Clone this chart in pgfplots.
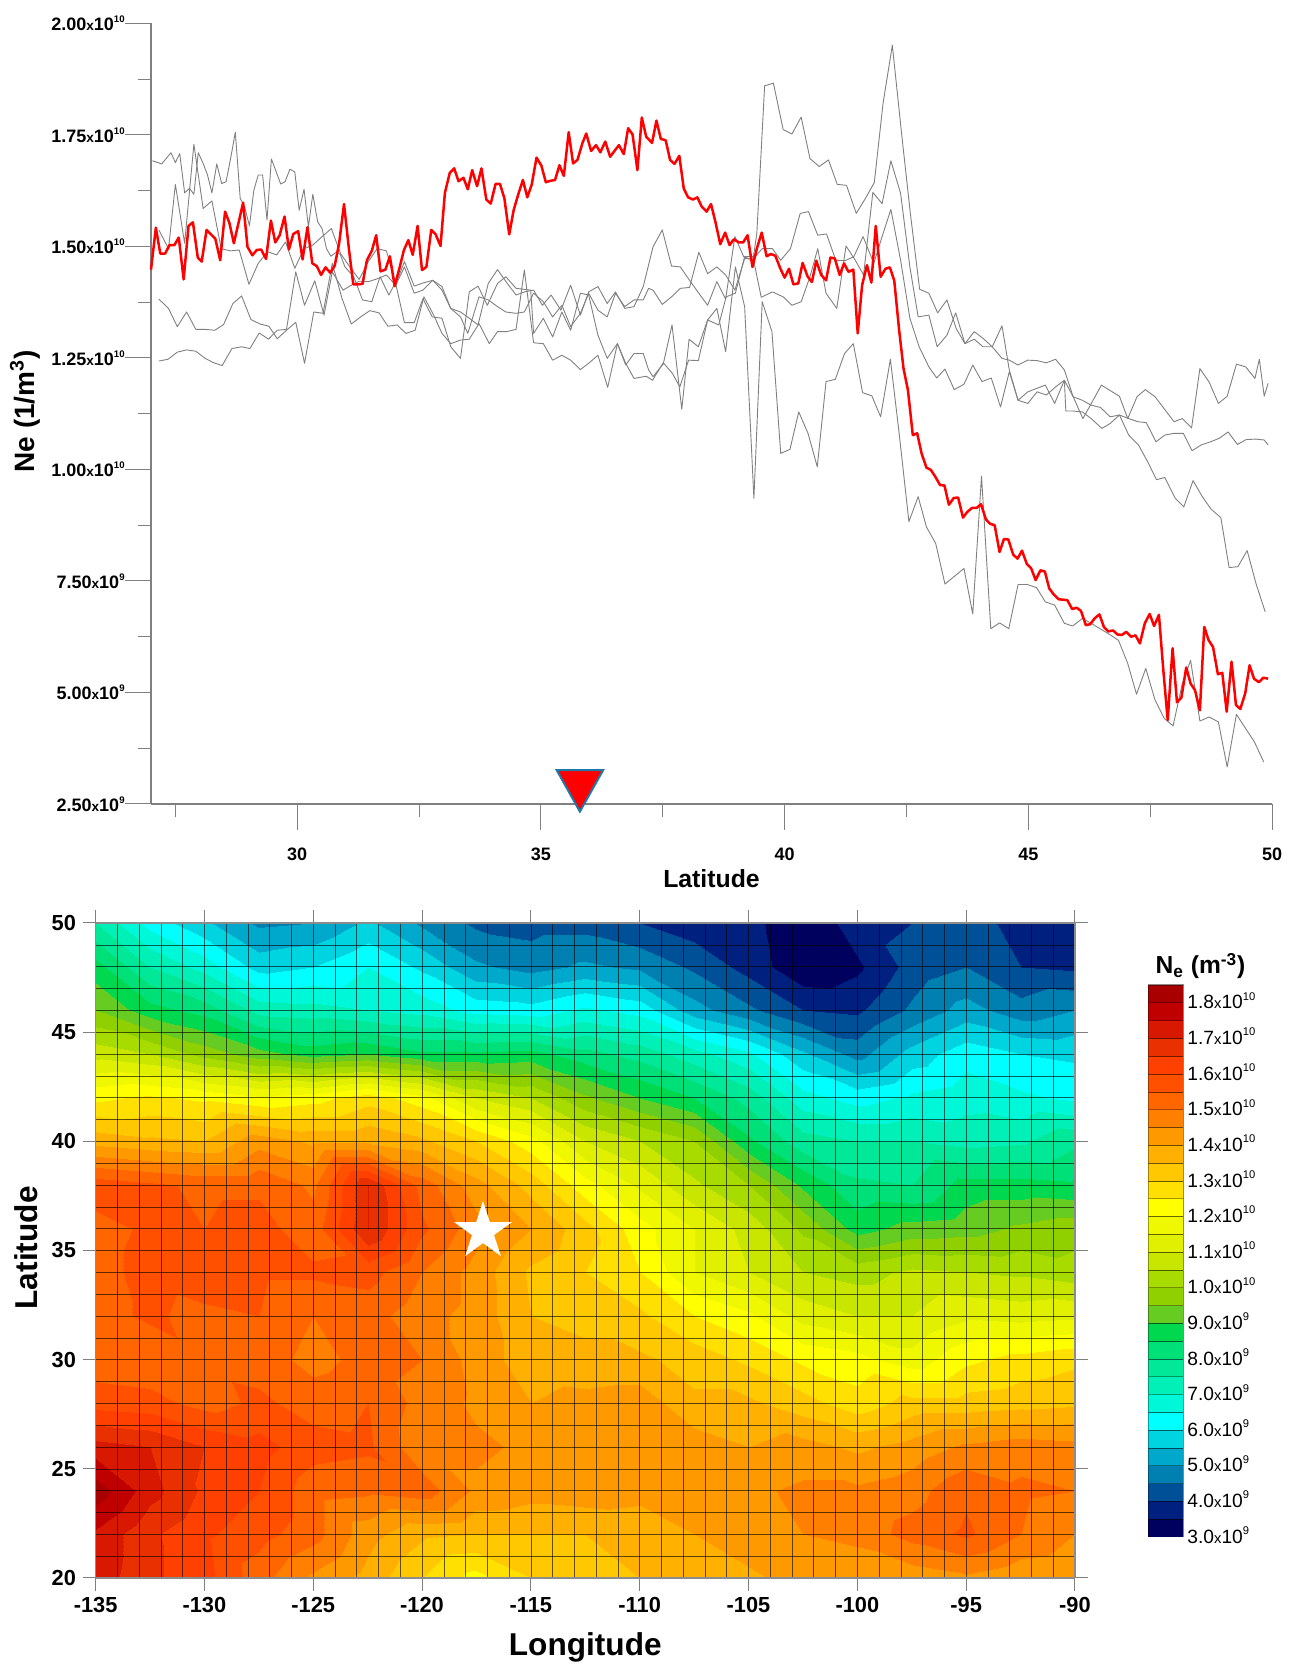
\documentclass[border=0pt]{standalone}
\usepackage{fontspec}
\setmainfont{Liberation Sans}
\usepackage{pgfplots}
\pgfplotsset{compat=1.18}
\usepgfplotslibrary{patchplots}
\newcommand\sci[2]{#1{\fontsize{6.8}{6.8}\selectfont x}10\raisebox{0.45em}{\fontsize{4.8}{4.8}\selectfont #2}}
\newcommand\scb[2]{#1{\fontsize{7.4}{7.4}\selectfont x}10\raisebox{0.45em}{\fontsize{5.6}{5.6}\selectfont #2}}
\pgfdeclareplotmark{nstar}{%
 \pgfpathmoveto{\pgfqpoint{0pt}{15.2pt}}
 \pgfpathlineto{\pgfqpoint{3.41pt}{4.7pt}}
 \pgfpathlineto{\pgfqpoint{14.46pt}{4.7pt}}
 \pgfpathlineto{\pgfqpoint{5.52pt}{-1.79pt}}
 \pgfpathlineto{\pgfqpoint{8.93pt}{-12.3pt}}
 \pgfpathlineto{\pgfqpoint{0pt}{-5.81pt}}
 \pgfpathlineto{\pgfqpoint{-8.93pt}{-12.3pt}}
 \pgfpathlineto{\pgfqpoint{-5.52pt}{-1.79pt}}
 \pgfpathlineto{\pgfqpoint{-14.46pt}{4.7pt}}
 \pgfpathlineto{\pgfqpoint{-3.41pt}{4.7pt}}
 \pgfpathclose\pgfusepathqfill}
\pgfdeclareplotmark{downtri}{%
 \pgfpathmoveto{\pgfqpoint{0pt}{0pt}}
 \pgfpathlineto{\pgfqpoint{11.6pt}{20.7pt}}
 \pgfpathlineto{\pgfqpoint{-11.6pt}{20.7pt}}
 \pgfpathclose\pgfusepathqfillstroke}
\begin{document}
\begin{tikzpicture}
\useasboundingbox (0,0) rectangle (649pt,832.5pt);
%%%% TOP PANEL
\begin{axis}[name=top, at={(75.5pt,430.5pt)}, anchor=south west, scale only axis, width=560.5pt, height=390.3pt,
 xmin=27, xmax=50, ymin=2.5, ymax=20, clip=false,
 axis lines=left, axis line style={-, black!50, line width=.6pt},
 tick align=outside, major tick length=13pt, minor tick length=6.5pt,
 tick style={black!50, line width=.5pt},
 xtick={30,35,40,45,50}, xticklabels={30,35,40,45,50},
 minor xtick={27.5,32.5,37.5,42.5,47.5},
 ytick={2.5,5,7.5,10,12.5,15,17.5,20},
 yticklabels={\sci{2.50}{9},\sci{5.00}{9},\sci{7.50}{9},\sci{1.00}{10},\sci{1.25}{10},\sci{1.50}{10},\sci{1.75}{10},\sci{2.00}{10}},
 minor ytick={3.75,6.25,8.75,11.25,13.75,16.25,18.75},
 tick label style={font=\bfseries\fontsize{9}{9}\selectfont},
 xticklabel style={yshift=-5.6pt},
 yticklabel style={inner sep=0pt},
 xlabel={Latitude}, ylabel={Ne (1/m\textsuperscript{3})},
 xlabel style={at={(axis description cs:0.5,0)}, anchor=center, yshift=-37.5pt, font=\bfseries\fontsize{12.4}{13}\selectfont},
 ylabel style={at={(axis description cs:0,0.503)}, anchor=center, yshift=63pt, font=\bfseries\fontsize{14}{15}\selectfont},
]
\addplot[black!50, line width=.45pt, line join=round] coordinates {
(27.03,16.92)(27.22,16.85)(27.41,17.10)(27.50,16.88)(27.59,17.08)(27.69,16.20)(27.79,16.30)(27.88,16.17)(27.97,17.10)(28.07,16.86)(28.16,16.60)(28.25,16.20)(28.35,16.85)(28.45,16.41)(28.54,16.45)(28.64,17.01)(28.73,17.56)(28.83,16.08)(28.92,15.89)(29.02,15.46)(29.11,16.26)(29.20,16.60)(29.29,16.60)(29.38,15.59)(29.47,16.96)(29.57,16.67)(29.66,16.40)(29.75,16.45)(29.85,16.73)(29.95,16.67)(30.04,15.81)(30.14,16.28)(30.23,15.44)(30.32,16.17)(30.42,15.55)(30.51,15.40)(30.60,14.95)(30.69,14.78)(30.79,14.86)(30.88,14.83)(30.98,14.54)(31.16,14.32)(31.34,13.80)(31.53,13.76)(31.70,14.32)(31.88,13.91)(32.08,14.32)(32.20,14.66)(32.40,14.11)(32.58,14.18)(32.78,14.24)(32.97,14.02)(33.15,13.61)(33.35,13.53)(33.53,13.39)(33.71,13.24)(33.92,14.17)(34.11,14.48)(34.31,14.17)(34.49,13.91)(34.66,13.98)(34.85,14.02)(35.03,13.68)(35.21,13.91)(35.41,13.57)(35.61,14.13)(35.81,13.46)(35.98,13.98)(36.17,14.10)(36.36,13.72)(36.53,13.98)(36.72,13.61)(36.91,13.65)(37.10,14.10)(37.30,14.99)(37.49,15.37)(37.68,14.56)(37.86,14.54)(38.05,14.24)(38.24,13.95)(38.42,13.68)(38.61,14.21)(38.79,13.82)(38.98,15.22)(39.16,14.77)(39.35,14.69)(39.43,15.29)(39.59,18.60)(39.77,18.66)(39.97,17.62)(40.15,17.52)(40.34,17.90)(40.52,16.97)(40.71,16.79)(40.90,16.94)(41.08,16.39)(41.27,16.37)(41.47,15.74)(41.66,16.08)(41.84,16.43)(42.02,18.21)(42.21,19.51)(42.40,17.53)(42.58,15.74)(42.77,14.04)(42.96,13.95)(43.14,13.51)(43.33,13.80)(43.52,13.16)(43.70,12.82)(43.89,12.92)(44.07,12.75)(44.26,12.75)(44.46,13.22)(44.61,12.23)(44.79,11.55)(44.99,11.74)(45.18,11.82)(45.35,11.89)(45.54,11.48)(45.74,12.00)(45.92,11.63)(46.12,11.14)(46.50,11.89)(46.87,11.64)(47.04,11.14)(47.23,11.63)(47.40,11.79)(47.60,11.63)(47.99,11.07)(48.16,11.14)(48.35,10.93)(48.52,12.26)(48.71,11.96)(48.90,11.48)(49.08,11.64)(49.27,12.36)(49.46,12.30)(49.65,12.04)(49.74,12.47)(49.84,11.64)(49.92,11.93)};
\addplot[black!50, line width=.45pt, line join=round] coordinates {
(27.16,15.37)(27.36,14.95)(27.50,16.39)(27.69,15.07)(27.88,17.29)(28.07,15.85)(28.25,16.02)(28.44,14.95)(28.63,14.90)(28.81,14.92)(29.01,14.15)(29.20,14.62)(29.39,14.88)(29.58,14.81)(29.76,15.10)(29.95,14.51)(30.14,14.95)(30.32,15.03)(30.51,15.22)(30.70,15.40)(30.89,14.84)(31.08,14.54)(31.27,14.26)(31.46,14.66)(31.64,14.95)(31.83,14.90)(32.02,14.17)(32.20,13.29)(32.40,13.29)(32.58,13.83)(32.77,13.42)(32.97,13.39)(33.15,12.75)(33.35,12.49)(33.53,13.98)(33.71,14.11)(33.90,13.68)(34.11,14.17)(34.28,14.32)(34.49,14.06)(34.79,14.02)(34.85,13.05)(35.05,13.39)(35.24,12.97)(35.43,13.53)(35.61,13.12)(35.81,13.95)(35.98,13.91)(36.17,13.01)(36.36,12.49)(36.57,12.82)(36.74,12.38)(36.91,12.04)(37.16,12.09)(37.29,12.00)(37.52,12.41)(37.69,13.24)(37.89,11.35)(38.04,12.92)(38.23,12.75)(38.42,13.35)(38.61,13.61)(38.79,12.64)(38.99,14.54)(39.18,13.65)(39.37,9.35)(39.54,13.76)(39.74,13.09)(39.92,10.36)(40.11,10.45)(40.29,11.29)(40.48,10.81)(40.67,10.06)(40.85,11.97)(41.04,12.02)(41.23,12.60)(41.41,12.82)(41.60,11.72)(41.79,11.65)(41.97,11.18)(42.17,12.47)(42.35,10.81)(42.55,8.83)(42.74,9.39)(42.91,8.71)(43.10,8.34)(43.29,7.43)(43.68,7.78)(43.86,6.76)(44.04,9.85)(44.23,6.43)(44.41,6.56)(44.60,6.43)(44.79,7.42)(44.98,7.42)(45.17,7.35)(45.35,7.03)(45.54,6.96)(45.74,6.55)(45.91,6.49)(46.11,6.66)(46.29,6.55)(46.67,6.30)(46.85,6.17)(47.04,5.65)(47.22,4.96)(47.41,5.54)(47.60,4.83)(47.79,4.42)(47.97,4.25)(48.16,5.20)(48.33,5.72)(48.52,4.36)(48.71,4.45)(48.90,4.34)(49.08,3.33)(49.27,4.51)(49.46,4.19)(49.64,3.89)(49.83,3.44)};
\addplot[black!50, line width=.45pt, line join=round] coordinates {
(27.16,13.82)(27.36,13.61)(27.54,13.20)(27.73,13.53)(27.92,13.14)(28.11,13.14)(28.31,13.12)(28.49,13.25)(28.68,13.72)(28.86,13.89)(29.05,13.36)(29.24,13.26)(29.42,13.21)(29.59,12.93)(29.78,13.12)(29.97,13.30)(30.15,12.38)(30.34,13.53)(30.53,13.50)(30.72,14.62)(30.92,13.83)(31.11,13.26)(31.30,13.42)(31.49,13.56)(31.68,13.51)(31.86,13.21)(32.05,13.24)(32.23,13.05)(32.42,13.12)(32.60,13.87)(32.80,13.46)(32.97,13.05)(33.15,12.82)(33.35,12.90)(33.53,12.92)(33.73,13.27)(33.94,12.82)(34.11,13.09)(34.30,13.09)(34.49,13.14)(34.66,14.47)(34.85,12.84)(35.05,12.82)(35.24,12.45)(35.43,12.56)(35.61,12.45)(35.81,12.24)(35.98,12.38)(36.17,12.56)(36.37,11.84)(36.57,12.82)(36.74,12.34)(36.91,12.60)(37.10,12.60)(37.21,12.23)(37.30,12.08)(37.52,12.38)(37.70,12.15)(37.85,11.85)(38.03,12.45)(38.23,12.44)(38.42,13.35)(38.65,13.24)(38.80,13.87)(38.99,13.95)(39.18,14.77)(39.35,14.77)(39.52,13.86)(39.75,13.98)(39.97,13.87)(40.15,13.68)(40.34,13.76)(40.52,14.32)(40.68,14.95)(40.85,13.95)(41.07,13.61)(41.26,15.01)(41.45,14.69)(41.62,14.36)(41.81,16.21)(42.00,15.96)(42.18,16.92)(42.38,16.19)(42.57,14.54)(42.74,13.42)(42.96,13.46)(43.13,12.75)(43.33,13.01)(43.51,13.51)(43.70,12.82)(43.89,13.09)(44.07,12.94)(44.26,12.75)(44.46,12.49)(44.61,12.45)(44.79,12.34)(44.99,12.45)(45.18,12.44)(45.37,12.39)(45.56,12.47)(45.74,12.23)(45.92,11.63)(46.11,11.55)(46.29,11.44)(46.48,11.39)(46.68,11.18)(46.87,11.22)(47.06,11.14)(47.25,11.07)(47.42,11.05)(47.62,10.62)(47.80,10.77)(47.99,10.81)(48.18,10.81)(48.36,10.42)(48.55,10.55)(48.74,10.62)(48.92,10.70)(49.10,10.84)(49.29,10.56)(49.47,10.67)(49.67,10.68)(49.84,10.66)(49.92,10.55)};
\addplot[black!50, line width=.45pt, line join=round] coordinates {
(27.16,12.43)(27.35,12.47)(27.54,12.63)(27.73,12.68)(27.92,12.65)(28.11,12.49)(28.29,12.39)(28.46,12.33)(28.66,12.71)(28.86,12.75)(29.03,12.71)(29.22,13.06)(29.41,12.92)(29.59,13.12)(29.78,13.14)(29.97,14.43)(30.15,13.68)(30.36,14.23)(30.55,13.46)(30.72,14.43)(30.94,14.02)(31.11,14.13)(31.27,14.22)(31.46,14.21)(31.66,14.28)(31.83,14.36)(32.02,14.13)(32.20,14.54)(32.40,13.95)(32.58,14.02)(32.78,14.24)(32.97,14.10)(33.15,13.61)(33.35,13.42)(33.50,13.05)(33.73,13.87)(33.92,13.80)(34.11,13.65)(34.28,13.53)(34.49,13.50)(34.66,13.53)(34.85,13.95)(35.05,13.76)(35.24,13.42)(35.43,13.68)(35.61,13.20)(35.81,13.50)(35.98,13.95)(36.17,13.57)(36.36,13.42)(36.53,13.95)(36.72,13.65)(36.91,13.80)(37.10,13.80)(37.21,14.06)(37.30,14.02)(37.49,13.70)(37.68,13.87)(37.86,14.06)(38.05,14.08)(38.24,14.87)(38.42,14.39)(38.61,14.54)(38.79,14.36)(38.98,14.02)(39.18,14.73)(39.35,14.71)(39.54,14.95)(39.75,14.95)(39.92,14.69)(40.12,14.95)(40.32,15.74)(40.49,15.78)(40.68,15.25)(40.86,15.28)(41.05,14.69)(41.24,14.68)(41.42,14.77)(41.61,15.22)(41.83,14.62)(42.00,15.22)(42.18,15.83)(42.38,14.69)(42.57,13.39)(42.76,12.75)(42.96,12.30)(43.12,12.05)(43.29,12.25)(43.48,11.79)(43.68,11.91)(43.86,12.34)(44.05,11.97)(44.24,12.05)(44.43,11.40)(44.61,12.19)(44.79,11.55)(44.99,11.48)(45.18,11.74)(45.37,11.67)(45.56,11.85)(45.74,12.00)(45.77,11.31)(45.92,11.31)(46.11,11.29)(46.29,11.14)(46.51,10.92)(46.68,11.03)(46.87,11.22)(47.06,10.77)(47.26,10.55)(47.45,10.17)(47.63,9.77)(47.80,9.82)(48.01,9.36)(48.19,9.16)(48.38,9.75)(48.57,9.39)(48.75,9.11)(48.95,8.92)(49.12,7.80)(49.30,7.82)(49.49,8.18)(49.68,7.41)(49.86,6.81)};
\addplot[red, line width=1.25pt, line join=round] coordinates {
(27.00,14.48)(27.10,15.42)(27.19,14.84)(27.29,14.84)(27.38,15.03)(27.48,15.03)(27.57,15.20)(27.67,14.26)(27.77,15.46)(27.86,15.54)(27.96,14.75)(28.04,14.66)(28.14,15.37)(28.23,15.27)(28.32,15.17)(28.42,14.69)(28.52,15.78)(28.61,15.52)(28.70,15.07)(28.80,15.55)(28.89,15.98)(28.98,14.99)(29.08,14.80)(29.17,14.92)(29.26,14.93)(29.36,14.72)(29.46,15.58)(29.55,15.09)(29.64,15.25)(29.74,15.67)(29.83,14.93)(29.92,15.28)(30.02,15.34)(30.11,14.71)(30.21,15.43)(30.31,14.62)(30.40,14.56)(30.49,14.36)(30.58,14.53)(30.68,14.41)(30.77,14.57)(30.86,15.07)(30.96,15.95)(31.06,14.95)(31.15,14.15)(31.24,14.15)(31.34,14.16)(31.43,14.69)(31.53,14.90)(31.62,15.25)(31.71,14.44)(31.81,14.48)(31.90,14.78)(32.00,14.11)(32.09,14.48)(32.19,14.92)(32.28,15.14)(32.37,14.81)(32.47,15.46)(32.56,14.47)(32.65,14.54)(32.75,15.37)(32.84,15.27)(32.94,15.01)(33.03,16.20)(33.13,16.65)(33.22,16.75)(33.31,16.46)(33.41,16.54)(33.50,16.28)(33.59,16.71)(33.69,16.35)(33.78,16.75)(33.88,16.05)(33.97,15.96)(34.07,16.40)(34.16,16.40)(34.25,16.08)(34.35,15.27)(34.44,15.81)(34.53,16.15)(34.63,16.49)(34.72,16.10)(34.81,16.38)(34.91,16.99)(35.01,16.81)(35.10,16.44)(35.19,16.47)(35.29,16.49)(35.38,16.82)(35.47,16.58)(35.57,17.56)(35.66,16.86)(35.75,16.94)(35.85,17.31)(35.93,17.53)(36.03,17.14)(36.13,17.27)(36.22,17.11)(36.32,17.35)(36.42,17.01)(36.51,17.14)(36.60,17.27)(36.70,17.07)(36.79,17.65)(36.88,17.51)(36.98,16.71)(37.07,17.89)(37.16,17.46)(37.28,17.32)(37.37,17.82)(37.46,17.41)(37.56,17.38)(37.65,16.94)(37.74,16.85)(37.84,17.03)(37.93,16.30)(38.02,16.10)(38.12,16.05)(38.21,16.10)(38.30,15.89)(38.40,15.78)(38.49,15.95)(38.58,15.55)(38.68,15.05)(38.78,15.31)(38.87,15.03)(38.96,15.16)(39.06,15.09)(39.15,15.09)(39.24,15.25)(39.34,14.54)(39.43,14.95)(39.53,15.31)(39.63,14.78)(39.72,14.83)(39.81,14.79)(39.91,14.51)(40.00,14.30)(40.09,14.50)(40.18,14.15)(40.28,14.17)(40.37,14.63)(40.47,14.33)(40.56,14.20)(40.65,14.68)(40.75,14.36)(40.85,14.24)(40.94,14.75)(41.03,14.73)(41.13,14.36)(41.22,14.62)(41.31,14.43)(41.41,14.48)(41.50,13.05)(41.59,14.13)(41.69,14.58)(41.78,14.19)(41.87,15.46)(41.97,14.32)(42.07,14.50)(42.16,14.53)(42.25,14.23)(42.35,13.12)(42.44,12.26)(42.53,11.78)(42.63,10.77)(42.72,10.81)(42.81,10.36)(42.91,10.04)(43.00,9.99)(43.09,9.84)(43.19,9.65)(43.28,9.64)(43.37,9.21)(43.47,9.36)(43.56,9.37)(43.66,8.92)(43.75,9.05)(43.85,9.14)(43.94,9.14)(44.03,9.22)(44.13,8.88)(44.22,8.78)(44.31,8.75)(44.41,8.15)(44.50,8.44)(44.59,8.43)(44.69,8.09)(44.78,8.00)(44.87,8.18)(44.97,7.88)(45.06,7.78)(45.15,7.52)(45.25,7.74)(45.34,7.71)(45.43,7.33)(45.52,7.20)(45.62,7.09)(45.71,7.08)(45.80,7.07)(45.90,6.87)(45.99,6.90)(46.08,6.83)(46.18,6.51)(46.27,6.53)(46.36,6.66)(46.46,6.75)(46.55,6.47)(46.64,6.37)(46.74,6.39)(46.83,6.30)(46.92,6.29)(47.01,6.36)(47.11,6.25)(47.20,6.28)(47.29,6.10)(47.39,6.55)(47.49,6.76)(47.58,6.49)(47.68,6.74)(47.77,5.50)(47.86,4.38)(47.96,5.99)(48.05,4.78)(48.14,4.88)(48.24,5.56)(48.33,5.20)(48.42,5.05)(48.52,4.60)(48.61,6.47)(48.70,6.17)(48.79,6.02)(48.89,5.41)(48.98,5.44)(49.07,4.57)(49.17,5.69)(49.26,4.72)(49.35,4.63)(49.45,4.98)(49.54,5.61)(49.63,5.31)(49.73,5.23)(49.82,5.33)(49.92,5.31)};
\end{axis}
%% triangle overlay
\begin{axis}[at={(75.5pt,430.5pt)}, anchor=south west, scale only axis, width=560.5pt, height=390.3pt,
 xmin=27, xmax=50, ymin=2.5, ymax=20, hide axis, clip=false]
\addplot[only marks, mark=downtri, mark options={fill=red, draw={rgb,255:red,30;green,120;blue,168}, line width=1pt, line join=miter}] coordinates {(35.8,2.33)};
\end{axis}
%%%% MAP
\begin{axis}[at={(47.8pt,43.5pt)}, anchor=south west, scale only axis, width=489.7pt, height=327.5pt,
 view={0}{90}, xmin=-135, xmax=-90, ymin=20, ymax=50, axis on top,
 axis line style={black!45, line width=.6pt},
 tick align=outside, major tick length=6.3pt, minor tick length=0pt,
 tick style={black!50, line width=.5pt},
 xtick={-135,-130,...,-90}, xticklabels={-135,-130,-125,-120,-115,-110,-105,-100,-95,-90},
 ytick={20,25,...,50}, yticklabels={20,25,30,35,40,45,50},
 xtick pos=both, ytick pos=both, xticklabel pos=lower, yticklabel pos=left,
 minor x tick num=4, minor y tick num=4, grid=both,
 grid style={black, line width=.3pt, opacity=.62},
 minor grid style={black, line width=.3pt, opacity=.62},
 tick label style={font=\bfseries\fontsize{10.9}{11}\selectfont},
 xticklabel style={yshift=0pt},
 xlabel={Longitude}, ylabel={Latitude},
 xlabel style={at={(axis description cs:0.5,0)}, anchor=center, yshift=-34.5pt, font=\bfseries\fontsize{15.8}{16}\selectfont},
 ylabel style={at={(axis description cs:0,0.504)}, anchor=center, yshift=34.5pt, font=\bfseries\fontsize{15.8}{16}\selectfont},
 colormap={ne}{rgb255=(0,0,95) rgb255=(0,32,128) rgb255=(0,80,152) rgb255=(0,128,176) rgb255=(0,168,204) rgb255=(0,212,224) rgb255=(0,255,255) rgb255=(0,248,216) rgb255=(0,240,184) rgb255=(0,232,152) rgb255=(0,224,120) rgb255=(0,216,80) rgb255=(102,204,34) rgb255=(144,208,0) rgb255=(168,220,0) rgb255=(200,230,0) rgb255=(224,240,0) rgb255=(240,248,0) rgb255=(255,255,0) rgb255=(255,224,0) rgb255=(255,200,0) rgb255=(255,176,0) rgb255=(255,153,0) rgb255=(255,128,0) rgb255=(255,102,0) rgb255=(255,80,0) rgb255=(255,64,0) rgb255=(232,48,0) rgb255=(216,24,0) rgb255=(192,0,0) rgb255=(168,0,0)},
 colormap access=piecewise constant, point meta min=3, point meta max=18.5,
]
\addplot3[surf, shader=interp, mesh/cols=19, point meta=z] coordinates {
(-135,20,17.3)(-132.5,20,16.6)(-130,20,16.2)(-127.5,20,15.2)(-125,20,14.4)(-122.5,20,13.8)(-120,20,13.0)(-117.5,20,12.3)(-115,20,13.0)(-112.5,20,13.3)(-110,20,13.5)(-107.5,20,13.7)(-105,20,13.9)(-102.5,20,14.2)(-100,20,14.0)(-97.5,20,14.2)(-95,20,14.4)(-92.5,20,14.1)(-90,20,14.0)

(-135,22,17.4)(-132.5,22,16.6)(-130,22,16.1)(-127.5,22,15.7)(-125,22,15.2)(-122.5,22,14.2)(-120,22,13.6)(-117.5,22,13.5)(-115,22,13.5)(-112.5,22,13.5)(-110,22,13.6)(-107.5,22,14.0)(-105,22,14.3)(-102.5,22,14.5)(-100,22,14.7)(-97.5,22,15.2)(-95,22,15.6)(-92.5,22,15.0)(-90,22,14.5)

(-135,24,18.3)(-132.5,24,17.2)(-130,24,16.4)(-127.5,24,16.0)(-125,24,15.2)(-122.5,24,15.1)(-120,24,15.3)(-117.5,24,14.4)(-115,24,14.2)(-112.5,24,14.3)(-110,24,14.2)(-107.5,24,14.4)(-105,24,14.4)(-102.5,24,14.6)(-100,24,14.6)(-97.5,24,14.8)(-95,24,15.4)(-92.5,24,15.1)(-90,24,15.0)

(-135,26,17.2)(-132.5,26,17.0)(-130,26,16.5)(-127.5,26,16.2)(-125,26,15.7)(-122.5,26,15.6)(-120,26,14.6)(-117.5,26,14.6)(-115,26,14.4)(-112.5,26,14.5)(-110,26,14.2)(-107.5,26,14.3)(-105,26,14.0)(-102.5,26,14.2)(-100,26,13.9)(-97.5,26,14.2)(-95,26,14.6)(-92.5,26,14.8)(-90,26,14.7)

(-135,28,15.8)(-132.5,28,15.7)(-130,28,15.3)(-127.5,28,15.6)(-125,28,15.3)(-122.5,28,15.5)(-120,28,14.8)(-117.5,28,14.4)(-115,28,14.0)(-112.5,28,14.2)(-110,28,14.3)(-107.5,28,13.6)(-105,28,13.6)(-102.5,28,13.2)(-100,28,12.7)(-97.5,28,13.2)(-95,28,13.2)(-92.5,28,13.3)(-90,28,13.4)

(-135,30,15.2)(-132.5,30,15.1)(-130,30,15.4)(-127.5,30,15.3)(-125,30,14.8)(-122.5,30,15.2)(-120,30,15.0)(-117.5,30,14.3)(-115,30,13.7)(-112.5,30,13.6)(-110,30,13.6)(-107.5,30,13.3)(-105,30,12.9)(-102.5,30,12.4)(-100,30,12.2)(-97.5,30,11.7)(-95,30,12.4)(-92.5,30,12.7)(-90,30,12.9)

(-135,32,15.3)(-132.5,32,15.6)(-130,32,15.3)(-127.5,32,15.5)(-125,32,15.0)(-122.5,32,15.2)(-120,32,14.7)(-117.5,32,14.3)(-115,32,13.5)(-112.5,32,13.4)(-110,32,13.1)(-107.5,32,12.5)(-105,32,12.1)(-102.5,32,11.3)(-100,32,11.0)(-97.5,32,11.0)(-95,32,11.4)(-92.5,32,11.3)(-90,32,11.4)

(-135,34,15.3)(-132.5,34,15.7)(-130,34,16.0)(-127.5,34,15.6)(-125,34,15.6)(-122.5,34,15.7)(-120,34,15.0)(-117.5,34,14.3)(-115,34,13.4)(-112.5,34,13.0)(-110,34,12.5)(-107.5,34,11.5)(-105,34,11.0)(-102.5,34,10.5)(-100,34,10.3)(-97.5,34,10.6)(-95,34,10.5)(-92.5,34,10.4)(-90,34,10.2)

(-135,36,15.3)(-132.5,36,15.6)(-130,36,15.5)(-127.5,36,15.7)(-125,36,15.2)(-122.5,36,17.0)(-120,36,15.6)(-117.5,36,14.7)(-115,36,14.0)(-112.5,36,13.2)(-110,36,12.2)(-107.5,36,11.5)(-105,36,10.8)(-102.5,36,9.9)(-100,36,8.8)(-97.5,36,9.2)(-95,36,9.3)(-92.5,36,9.6)(-90,36,9.8)

(-135,38,15.8)(-132.5,38,15.6)(-130,38,15.4)(-127.5,38,15.4)(-125,38,14.9)(-122.5,38,17.0)(-120,38,15.3)(-117.5,38,14.2)(-115,38,13.3)(-112.5,38,12.2)(-110,38,11.4)(-107.5,38,10.6)(-105,38,10.0)(-102.5,38,8.9)(-100,38,8.1)(-97.5,38,8.0)(-95,38,8.7)(-92.5,38,8.7)(-90,38,8.6)

(-135,40,13.8)(-132.5,40,13.6)(-130,40,13.5)(-127.5,40,14.3)(-125,40,13.9)(-122.5,40,13.9)(-120,40,13.6)(-117.5,40,13.0)(-115,40,12.2)(-112.5,40,11.0)(-110,40,10.5)(-107.5,40,10.0)(-105,40,8.6)(-102.5,40,7.7)(-100,40,7.5)(-97.5,40,7.5)(-95,40,7.3)(-92.5,40,7.4)(-90,40,7.9)

(-135,42,12.4)(-132.5,42,12.6)(-130,42,12.4)(-127.5,42,12.1)(-125,42,12.3)(-122.5,42,12.8)(-120,42,12.2)(-117.5,42,11.0)(-115,42,10.5)(-112.5,42,9.6)(-110,42,9.0)(-107.5,42,8.5)(-105,42,7.8)(-102.5,42,6.7)(-100,42,6.3)(-97.5,42,6.6)(-95,42,6.8)(-92.5,42,6.6)(-90,42,6.4)

(-135,44,10.8)(-132.5,44,10.5)(-130,44,9.8)(-127.5,44,9.2)(-125,44,8.8)(-122.5,44,9.0)(-120,44,8.6)(-117.5,44,8.6)(-115,44,8.7)(-112.5,44,8.2)(-110,44,7.8)(-107.5,44,7.2)(-105,44,6.6)(-102.5,44,5.6)(-100,44,4.8)(-97.5,44,5.7)(-95,44,6.3)(-92.5,44,6.0)(-90,44,5.9)

(-135,46,9.5)(-132.5,46,8.7)(-130,46,8.3)(-127.5,46,7.3)(-125,46,7.2)(-122.5,46,7.0)(-120,46,6.8)(-117.5,46,6.3)(-115,46,6.2)(-112.5,46,6.6)(-110,46,6.3)(-107.5,46,5.2)(-105,46,4.6)(-102.5,46,4.0)(-100,46,3.9)(-97.5,46,4.6)(-95,46,5.2)(-92.5,46,4.7)(-90,46,5.0)

(-135,48,8.7)(-132.5,48,7.5)(-130,48,6.8)(-127.5,48,5.8)(-125,48,6.0)(-122.5,48,6.5)(-120,48,5.9)(-117.5,48,5.1)(-115,48,4.8)(-112.5,48,5.1)(-110,48,4.9)(-107.5,48,4.4)(-105,48,3.8)(-102.5,48,3.1)(-100,48,3.4)(-97.5,48,4.2)(-95,48,4.5)(-92.5,48,4.0)(-90,48,3.9)

(-135,50,7.5)(-132.5,50,6.3)(-130,50,5.6)(-127.5,50,4.9)(-125,50,5.0)(-122.5,50,5.6)(-120,50,4.9)(-117.5,50,4.4)(-115,50,4.3)(-112.5,50,4.3)(-110,50,4.0)(-107.5,50,3.7)(-105,50,3.7)(-102.5,50,3.0)(-100,50,3.8)(-97.5,50,4.0)(-95,50,4.5)(-92.5,50,3.6)(-90,50,3.6)
};
\end{axis}
%% star overlay
\begin{axis}[at={(47.8pt,43.5pt)}, anchor=south west, scale only axis, width=489.7pt, height=327.5pt,
 xmin=-135, xmax=-90, ymin=20, ymax=50, hide axis]
\addplot[only marks, mark=nstar, white] coordinates {(-117.2,35.87)};
\end{axis}
%%%% COLOUR BAR
\begin{axis}[at={(574pt,64pt)}, anchor=south west, scale only axis, width=17.5pt, height=276pt,
 xmin=0, xmax=1, ymin=3, ymax=18.5, xtick=\empty,
 ytick={3,4,...,18}, yticklabels={\scb{3.0}{9},\scb{4.0}{9},\scb{5.0}{9},\scb{6.0}{9},\scb{7.0}{9},\scb{8.0}{9},\scb{9.0}{9},\scb{1.0}{10},\scb{1.1}{10},\scb{1.2}{10},\scb{1.3}{10},\scb{1.4}{10},\scb{1.5}{10},\scb{1.6}{10},\scb{1.7}{10},\scb{1.8}{10}},
 yticklabel pos=right, major tick length=0pt, 
 tick label style={font=\fontsize{9.6}{9.6}\selectfont},
 yticklabel style={inner sep=0pt, xshift=2pt, yshift=1pt},
 axis line style={black!45, line width=.5pt},
 title={N\textsubscript{e} (m\textsuperscript{-3})},
 title style={at={(axis description cs:0.5,1)}, anchor=south, xshift=17.5pt, yshift=-6.5pt, font=\bfseries\fontsize{12.3}{13}\selectfont},
]
\addplot[fill={rgb,255:red,0;green,0;blue,95},draw=black,draw opacity=.35,line width=.3pt] coordinates {(0,3)(1,3)(1,3.5)(0,3.5)} --cycle;
\addplot[fill={rgb,255:red,0;green,32;blue,128},draw=black,draw opacity=.35,line width=.3pt] coordinates {(0,3.5)(1,3.5)(1,4)(0,4)} --cycle;
\addplot[fill={rgb,255:red,0;green,80;blue,152},draw=black,draw opacity=.35,line width=.3pt] coordinates {(0,4)(1,4)(1,4.5)(0,4.5)} --cycle;
\addplot[fill={rgb,255:red,0;green,128;blue,176},draw=black,draw opacity=.35,line width=.3pt] coordinates {(0,4.5)(1,4.5)(1,5)(0,5)} --cycle;
\addplot[fill={rgb,255:red,0;green,168;blue,204},draw=black,draw opacity=.35,line width=.3pt] coordinates {(0,5)(1,5)(1,5.5)(0,5.5)} --cycle;
\addplot[fill={rgb,255:red,0;green,212;blue,224},draw=black,draw opacity=.35,line width=.3pt] coordinates {(0,5.5)(1,5.5)(1,6)(0,6)} --cycle;
\addplot[fill={rgb,255:red,0;green,255;blue,255},draw=black,draw opacity=.35,line width=.3pt] coordinates {(0,6)(1,6)(1,6.5)(0,6.5)} --cycle;
\addplot[fill={rgb,255:red,0;green,248;blue,216},draw=black,draw opacity=.35,line width=.3pt] coordinates {(0,6.5)(1,6.5)(1,7)(0,7)} --cycle;
\addplot[fill={rgb,255:red,0;green,240;blue,184},draw=black,draw opacity=.35,line width=.3pt] coordinates {(0,7)(1,7)(1,7.5)(0,7.5)} --cycle;
\addplot[fill={rgb,255:red,0;green,232;blue,152},draw=black,draw opacity=.35,line width=.3pt] coordinates {(0,7.5)(1,7.5)(1,8)(0,8)} --cycle;
\addplot[fill={rgb,255:red,0;green,224;blue,120},draw=black,draw opacity=.35,line width=.3pt] coordinates {(0,8)(1,8)(1,8.5)(0,8.5)} --cycle;
\addplot[fill={rgb,255:red,0;green,216;blue,80},draw=black,draw opacity=.35,line width=.3pt] coordinates {(0,8.5)(1,8.5)(1,9)(0,9)} --cycle;
\addplot[fill={rgb,255:red,102;green,204;blue,34},draw=black,draw opacity=.35,line width=.3pt] coordinates {(0,9)(1,9)(1,9.5)(0,9.5)} --cycle;
\addplot[fill={rgb,255:red,144;green,208;blue,0},draw=black,draw opacity=.35,line width=.3pt] coordinates {(0,9.5)(1,9.5)(1,10)(0,10)} --cycle;
\addplot[fill={rgb,255:red,168;green,220;blue,0},draw=black,draw opacity=.35,line width=.3pt] coordinates {(0,10)(1,10)(1,10.5)(0,10.5)} --cycle;
\addplot[fill={rgb,255:red,200;green,230;blue,0},draw=black,draw opacity=.35,line width=.3pt] coordinates {(0,10.5)(1,10.5)(1,11)(0,11)} --cycle;
\addplot[fill={rgb,255:red,224;green,240;blue,0},draw=black,draw opacity=.35,line width=.3pt] coordinates {(0,11)(1,11)(1,11.5)(0,11.5)} --cycle;
\addplot[fill={rgb,255:red,240;green,248;blue,0},draw=black,draw opacity=.35,line width=.3pt] coordinates {(0,11.5)(1,11.5)(1,12)(0,12)} --cycle;
\addplot[fill={rgb,255:red,255;green,255;blue,0},draw=black,draw opacity=.35,line width=.3pt] coordinates {(0,12)(1,12)(1,12.5)(0,12.5)} --cycle;
\addplot[fill={rgb,255:red,255;green,224;blue,0},draw=black,draw opacity=.35,line width=.3pt] coordinates {(0,12.5)(1,12.5)(1,13)(0,13)} --cycle;
\addplot[fill={rgb,255:red,255;green,200;blue,0},draw=black,draw opacity=.35,line width=.3pt] coordinates {(0,13)(1,13)(1,13.5)(0,13.5)} --cycle;
\addplot[fill={rgb,255:red,255;green,176;blue,0},draw=black,draw opacity=.35,line width=.3pt] coordinates {(0,13.5)(1,13.5)(1,14)(0,14)} --cycle;
\addplot[fill={rgb,255:red,255;green,153;blue,0},draw=black,draw opacity=.35,line width=.3pt] coordinates {(0,14)(1,14)(1,14.5)(0,14.5)} --cycle;
\addplot[fill={rgb,255:red,255;green,128;blue,0},draw=black,draw opacity=.35,line width=.3pt] coordinates {(0,14.5)(1,14.5)(1,15)(0,15)} --cycle;
\addplot[fill={rgb,255:red,255;green,102;blue,0},draw=black,draw opacity=.35,line width=.3pt] coordinates {(0,15)(1,15)(1,15.5)(0,15.5)} --cycle;
\addplot[fill={rgb,255:red,255;green,80;blue,0},draw=black,draw opacity=.35,line width=.3pt] coordinates {(0,15.5)(1,15.5)(1,16)(0,16)} --cycle;
\addplot[fill={rgb,255:red,255;green,64;blue,0},draw=black,draw opacity=.35,line width=.3pt] coordinates {(0,16)(1,16)(1,16.5)(0,16.5)} --cycle;
\addplot[fill={rgb,255:red,232;green,48;blue,0},draw=black,draw opacity=.35,line width=.3pt] coordinates {(0,16.5)(1,16.5)(1,17)(0,17)} --cycle;
\addplot[fill={rgb,255:red,216;green,24;blue,0},draw=black,draw opacity=.35,line width=.3pt] coordinates {(0,17)(1,17)(1,17.5)(0,17.5)} --cycle;
\addplot[fill={rgb,255:red,192;green,0;blue,0},draw=black,draw opacity=.35,line width=.3pt] coordinates {(0,17.5)(1,17.5)(1,18)(0,18)} --cycle;
\addplot[fill={rgb,255:red,168;green,0;blue,0},draw=black,draw opacity=.35,line width=.3pt] coordinates {(0,18)(1,18)(1,18.5)(0,18.5)} --cycle;
\end{axis}
\end{tikzpicture}
\end{document}
